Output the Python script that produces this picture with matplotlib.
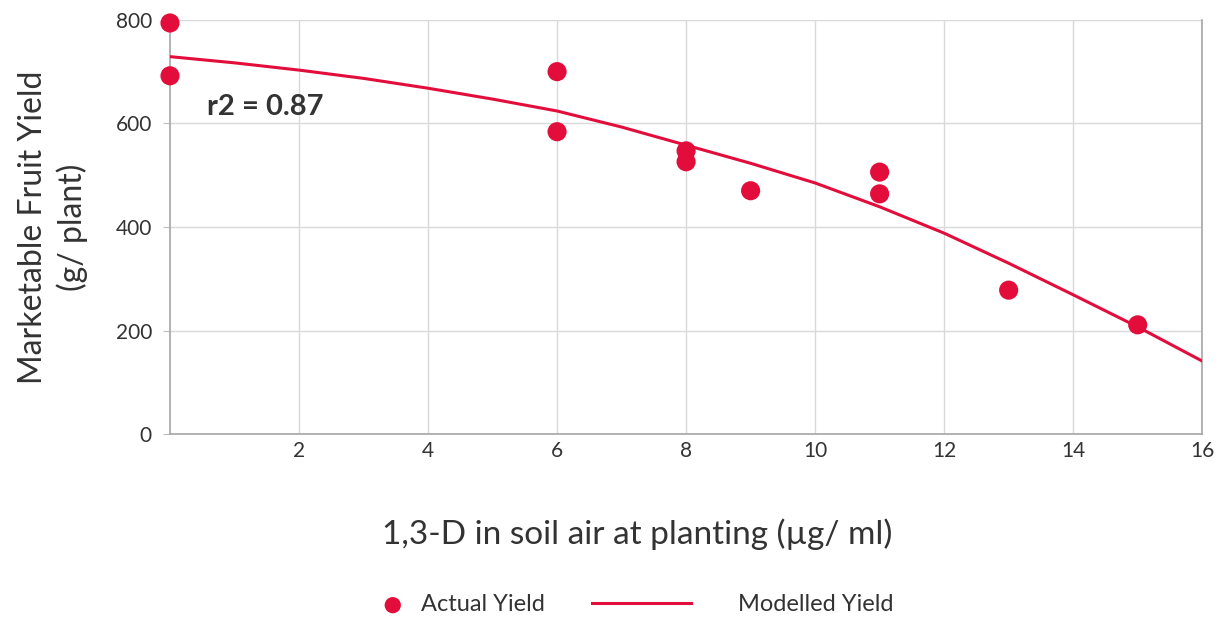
import matplotlib.pyplot as plt

# actual yield observations
actual_x = [0, 0, 6, 6, 8, 8, 9, 11, 11, 13, 15]
actual_y = [794, 692, 700, 584, 547, 526, 470, 506, 464, 278, 211]

# modelled yield curve at whole x values
model_x = [0, 1, 2, 3, 4, 5, 6, 7, 8, 9, 10, 11, 12, 13, 14, 15, 16]
model_y = [729, 717, 703, 687, 668, 647, 624, 593, 558, 523, 485, 439,
           388, 330, 269, 207, 141]

x_ticks = [2, 4, 6, 8, 10, 12, 14, 16]
y_ticks = [0, 200, 400, 600, 800]

red = '#e30d3c'
txt = '#333333'

plt.rcParams['font.family'] = ['Lato', 'DejaVu Sans']

fig = plt.figure(figsize=(12.23, 6.21), dpi=100)
ax = fig.add_axes([0.139, 0.301, 0.844, 0.667])

line, = ax.plot(model_x, model_y, color=red, lw=2.2, label='Modelled Yield', zorder=3)
pts = ax.scatter(actual_x, actual_y, s=190, color=red, label='Actual Yield', zorder=4,
                 clip_on=False, edgecolors='none')

ax.set_xlim(0, 16)
ax.set_ylim(0, 800)
ax.set_xticks(x_ticks)
ax.set_yticks(y_ticks)
ax.grid(True, color='#d9d9d9', lw=1)
ax.set_axisbelow(True)
for s in ['left', 'bottom', 'right']:
    ax.spines[s].set_color('#a6a6a6')
    ax.spines[s].set_linewidth(1.2)
ax.spines['top'].set_visible(False)
ax.tick_params(axis='x', length=0, pad=5, labelsize=15, labelcolor=txt)
ax.tick_params(axis='y', length=5, color='#bfbfbf', pad=8, labelsize=15, labelcolor=txt)

ax.set_xlabel('1,3-D in soil air at planting (µg/ ml)', fontsize=24, color=txt, labelpad=41)
ax.xaxis.label.set_x(0.4525)
ax.set_ylabel('Marketable Fruit Yield\n(g/ plant)', fontsize=23, color=txt, labelpad=20,
              linespacing=1.3)

ax.text(0.57, 632, 'r2 = 0.87', fontsize=21, fontweight='bold', color=txt, va='center')

leg1 = fig.legend([pts], ['Actual Yield'], loc='center left', bbox_to_anchor=(0.3115, 0.026),
                  frameon=False, fontsize=17, handlelength=1.0, handletextpad=0.7,
                  borderpad=0, borderaxespad=0, labelcolor=txt, markerscale=0.85)
leg2 = fig.legend([line], ['Modelled Yield'], loc='center left', bbox_to_anchor=(0.484, 0.026),
                  frameon=False, fontsize=17, handlelength=4.2, handletextpad=2.0,
                  borderpad=0, borderaxespad=0, labelcolor=txt)

fig.savefig('out.png', dpi=100)
